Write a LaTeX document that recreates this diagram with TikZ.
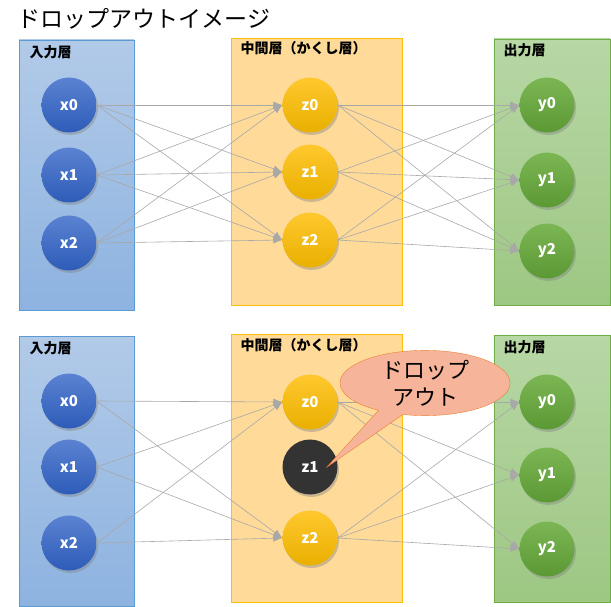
\documentclass[tikz,border=0pt]{standalone}
\usepackage{fontspec}
\setmainfont{Noto Sans CJK JP}
\usetikzlibrary{shapes.callouts,shadows,arrows.meta}

\definecolor{inedge}{HTML}{5B9BD5}
\definecolor{inboxtop}{HTML}{B2CAE8}
\definecolor{inboxbot}{HTML}{8DB3E0}
\definecolor{hidedge}{HTML}{FFC000}
\definecolor{hidbox}{HTML}{FFDA99}
\definecolor{outedge}{HTML}{70AD47}
\definecolor{outboxtop}{HTML}{B7D7A5}
\definecolor{outboxbot}{HTML}{9DC783}
\definecolor{bluetop}{HTML}{5B82D2}
\definecolor{bluebot}{HTML}{2D5CB8}
\definecolor{yellowtop}{HTML}{FFC82E}
\definecolor{yellowbot}{HTML}{E9B000}
\definecolor{greentop}{HTML}{7CB654}
\definecolor{greenbot}{HTML}{5B9934}
\definecolor{droppedunit}{HTML}{333333}
\definecolor{linegray}{HTML}{A8A8A8}
\definecolor{balloonfill}{HTML}{F6B59A}
\definecolor{balloonedge}{HTML}{ED7D31}

\begin{document}
\begin{tikzpicture}[x=1pt,y=-1pt,
  neuron/.style={circle,minimum size=55pt,inner sep=0pt,text=white,
    font=\fontsize{15}{15}\selectfont\bfseries,
    drop shadow={shadow xshift=1.5pt,shadow yshift=-2.5pt,opacity=0.4}},
  inunit/.style={neuron,top color=bluetop,bottom color=bluebot},
  hidunit/.style={neuron,top color=yellowtop,bottom color=yellowbot},
  outunit/.style={neuron,top color=greentop,bottom color=greenbot},
  offunit/.style={neuron,fill=droppedunit},
  link/.style={draw=linegray,line width=0.6pt,-{Latex[length=9pt,width=7pt]}},
  layername/.style={anchor=west,font=\fontsize{14}{14}\selectfont\bfseries}]
  \useasboundingbox (0,0) rectangle (611,607);

  \node[anchor=west,font=\fontsize{23}{23}\selectfont] (title) at (14,19) {ドロップアウトイメージ};

  % layers, full network
  \draw[inedge,top color=inboxtop,bottom color=inboxbot] (19,40) rectangle (134,310);
  \draw[hidedge,fill=hidbox] (231,38) rectangle (402,305);
  \draw[outedge,top color=outboxtop,bottom color=outboxbot] (494,39) rectangle (610,305);
  \node[layername] (inname) at (26,52) {入力層};
  \node[layername] (hidname) at (237,48) {中間層（かくし層）};
  \node[layername] (outname) at (500,50) {出力層};

  \node[inunit] (x0) at (69,105) {x0};
  \node[inunit] (x1) at (69,175) {x1};
  \node[inunit] (x2) at (69,243) {x2};
  \node[hidunit] (z0) at (310,105) {z0};
  \node[hidunit] (z1) at (310,172) {z1};
  \node[hidunit] (z2) at (310,240) {z2};
  \node[outunit] (y0) at (547,105) {y0};
  \node[outunit] (y1) at (547,180) {y1};
  \node[outunit] (y2) at (547,251) {y2};

  \draw[link] (x0.east) -- (z0.west);
  \draw[link] (x0.east) -- (z1.west);
  \draw[link] (x0.east) -- (z2.west);
  \draw[link] (x1.east) -- (z0.west);
  \draw[link] (x1.east) -- (z1.west);
  \draw[link] (x1.east) -- (z2.west);
  \draw[link] (x2.east) -- (z0.west);
  \draw[link] (x2.east) -- (z1.west);
  \draw[link] (x2.east) -- (z2.west);
  \draw[link] (z0.east) -- (y0.west);
  \draw[link] (z0.east) -- (y1.west);
  \draw[link] (z0.east) -- (y2.west);
  \draw[link] (z1.east) -- (y0.west);
  \draw[link] (z1.east) -- (y1.west);
  \draw[link] (z1.east) -- (y2.west);
  \draw[link] (z2.east) -- (y0.west);
  \draw[link] (z2.east) -- (y1.west);
  \draw[link] (z2.east) -- (y2.west);

  % layers, with dropout
  \draw[inedge,top color=inboxtop,bottom color=inboxbot] (19,336) rectangle (134,606);
  \draw[hidedge,fill=hidbox] (231,334) rectangle (402,602);
  \draw[outedge,top color=outboxtop,bottom color=outboxbot] (494,335) rectangle (610,602);
  \node[layername] (dinname) at (26,348) {入力層};
  \node[layername] (dhidname) at (237,345) {中間層（かくし層）};
  \node[layername] (doutname) at (500,347) {出力層};

  \node[inunit] (dx0) at (69,401) {x0};
  \node[inunit] (dx1) at (69,467) {x1};
  \node[inunit] (dx2) at (69,543) {x2};
  \node[hidunit] (dz0) at (310,402) {z0};
  \node[offunit] (dz1) at (310,467) {z1};
  \node[hidunit] (dz2) at (310,538) {z2};
  \node[outunit] (dy0) at (547,402) {y0};
  \node[outunit] (dy1) at (547,475) {y1};
  \node[outunit] (dy2) at (547,549) {y2};

  \draw[link] (dx0.east) -- (dz0.west);
  \draw[link] (dx0.east) -- (dz2.west);
  \draw[link] (dx1.east) -- (dz0.west);
  \draw[link] (dx1.east) -- (dz2.west);
  \draw[link] (dx2.east) -- (dz0.west);
  \draw[link] (dx2.east) -- (dz2.west);
  \draw[link] (dz0.east) -- (dy0.west);
  \draw[link] (dz0.east) -- (dy1.west);
  \draw[link] (dz0.east) -- (dy2.west);
  \draw[link] (dz2.east) -- (dy0.west);
  \draw[link] (dz2.east) -- (dy1.west);
  \draw[link] (dz2.east) -- (dy2.west);

  \node[ellipse callout,draw=balloonedge,fill=balloonfill,minimum width=170pt,
    minimum height=54pt,inner sep=0pt,callout absolute pointer={(327,467)},
    callout pointer arc=18,align=center,font=\fontsize{22}{27}\selectfont]
    (balloon) at (425,383) {ドロップ\\アウト};
\end{tikzpicture}
\end{document}
